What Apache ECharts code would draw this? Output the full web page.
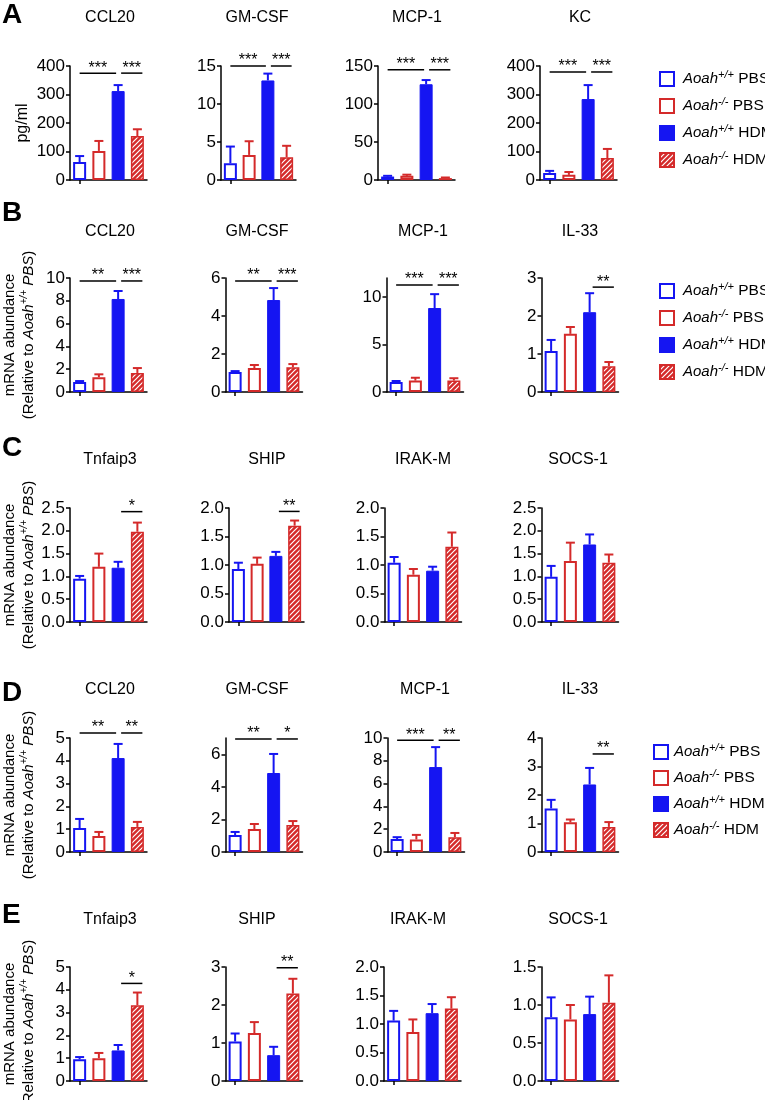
<!DOCTYPE html>
<html><head><meta charset="utf-8">
<script src="https://cdn.jsdelivr.net/npm/echarts@6/dist/echarts.min.js"></script>
<style>html,body{margin:0;padding:0;background:#fff}#c{width:765px;height:1100px}</style>
</head><body><div id="c"></div>
<script>
// ---------------- DATA ----------------
const categories = ['Aoah+/+ PBS', 'Aoah-/- PBS', 'Aoah+/+ HDM', 'Aoah-/- HDM'];

// Row A (pg/ml)
const titlesA = ['CCL20', 'GM-CSF', 'MCP-1', 'KC'];
const meanA1 = [63, 102, 312, 154],   semA1 = [21, 35, 21, 24],      ticksA1 = [0, 100, 200, 300, 400];
const meanA2 = [2.2, 3.3, 13.1, 3.0], semA2 = [2.2, 1.8, 0.9, 1.5],  ticksA2 = [0, 5, 10, 15];
const meanA3 = [4.5, 5.5, 126, 2.5],  semA3 = [1, 1.5, 5.5, 0.8],    ticksA3 = [0, 50, 100, 150];
const meanA4 = [25, 18, 284, 77],     semA4 = [7, 10, 49, 32],       ticksA4 = [0, 100, 200, 300, 400];
const sigA1 = [[0, 2, 375, '***'], [2, 3, 375, '***']];
const sigA2 = [[0, 2, 15, '***'], [2, 3, 15, '***']];
const sigA3 = [[0, 2, 145, '***'], [2, 3, 145, '***']];
const sigA4 = [[0, 2, 379, '***'], [2, 3, 379, '***']];

// Row B (mRNA)
const titlesB = ['CCL20', 'GM-CSF', 'MCP-1', 'IL-33'];
const meanB1 = [0.88, 1.3, 8.16, 1.67], semB1 = [0.08, 0.25, 0.7, 0.43],  ticksB1 = [0, 2, 4, 6, 8, 10];
const meanB2 = [1.05, 1.26, 4.84, 1.3], semB2 = [0.05, 0.16, 0.63, 0.17], ticksB2 = [0, 2, 4, 6];
const meanB3 = [1.05, 1.2, 8.84, 1.2],  semB3 = [0.11, 0.3, 1.46, 0.25],  ticksB3 = [0, 5, 10];
const meanB4 = [1.08, 1.53, 2.1, 0.68], semB4 = [0.29, 0.18, 0.5, 0.11],  ticksB4 = [0, 1, 2, 3];
const sigB1 = [[0, 2, 9.74, '**'], [2, 3, 9.74, '***']];
const sigB2 = [[0, 2, 5.84, '**'], [2, 3, 5.84, '***']];
const sigB3 = [[0, 2, 11.26, '***'], [2, 3, 11.26, '***']];
const sigB4 = [[2, 3, 2.76, '**']];

// Row C
const titlesC = ['Tnfaip3', 'SHIP', 'IRAK-M', 'SOCS-1'];
const meanC1 = [0.95, 1.21, 1.19, 1.98], semC1 = [0.06, 0.29, 0.13, 0.2],  ticksC1 = [0, 0.5, 1, 1.5, 2, 2.5];
const meanC2 = [0.93, 1.02, 1.16, 1.69], semC2 = [0.11, 0.11, 0.07, 0.09], ticksC2 = [0, 0.5, 1, 1.5, 2];
const meanC3 = [1.04, 0.83, 0.9, 1.32],  semC3 = [0.1, 0.1, 0.07, 0.25],   ticksC3 = [0, 0.5, 1, 1.5, 2];
const meanC4 = [0.99, 1.34, 1.7, 1.3],   semC4 = [0.24, 0.4, 0.22, 0.18],  ticksC4 = [0, 0.5, 1, 1.5, 2, 2.5];
const sigC1 = [[2, 3, 2.42, '*']];
const sigC2 = [[2, 3, 1.94, '**']];
const sigC3 = [];
const sigC4 = [];

// Row D
const titlesD = ['CCL20', 'GM-CSF', 'MCP-1', 'IL-33'];
const meanD1 = [1.05, 0.7, 4.12, 1.1],   semD1 = [0.4, 0.18, 0.62, 0.22],  ticksD1 = [0, 1, 2, 3, 4, 5];
const meanD2 = [1.04, 1.41, 4.85, 1.66], semD2 = [0.19, 0.31, 1.17, 0.24], ticksD2 = [0, 2, 4, 6];
const meanD3 = [1.14, 1.1, 7.45, 1.3],   semD3 = [0.16, 0.4, 1.75, 0.37],  ticksD3 = [0, 2, 4, 6, 8, 10];
const meanD4 = [1.53, 1.04, 2.37, 0.88], semD4 = [0.3, 0.1, 0.58, 0.17],   ticksD4 = [0, 1, 2, 3, 4];
const sigD1 = [[0, 2, 5.22, '**'], [2, 3, 5.22, '**']];
const sigD2 = [[0, 2, 6.94, '**'], [2, 3, 6.94, '*']];
const sigD3 = [[0, 2, 9.8, '***'], [2, 3, 9.8, '**']];
const sigD4 = [[2, 3, 3.44, '**']];

// Row E
const titlesE = ['Tnfaip3', 'SHIP', 'IRAK-M', 'SOCS-1'];
const meanE1 = [0.95, 1.0, 1.34, 3.32],  semE1 = [0.1, 0.23, 0.24, 0.56],  ticksE1 = [0, 1, 2, 3, 4, 5];
const meanE2 = [1.04, 1.26, 0.68, 2.3],  semE2 = [0.21, 0.29, 0.22, 0.39], ticksE2 = [0, 1, 2, 3];
const meanE3 = [1.06, 0.86, 1.19, 1.27], semE3 = [0.17, 0.22, 0.16, 0.2],  ticksE3 = [0, 0.5, 1, 1.5, 2];
const meanE4 = [0.84, 0.81, 0.88, 1.03], semE4 = [0.26, 0.19, 0.23, 0.36], ticksE4 = [0, 0.5, 1, 1.5];
const sigE1 = [[2, 3, 4.28, '*']];
const sigE2 = [[2, 3, 2.98, '**']];
const sigE3 = [];
const sigE4 = [];

// axis maxima (only differ from last tick in two panels)
const axisMaxB3 = 12, axisMaxD2 = 7;

// ---------------- LAYOUT / STYLE ----------------
const BLUE = '#1515f2', RED = '#d42a2a';
const FONT = '"Liberation Sans", Arial, Helvetica, sans-serif';
const PLOT_H = 114;

const rows = [
  { letter: 'A', top: 66,  letterY: 15,  titleY: 18,  lefts: [70, 221, 378, 540], widths: [77, 75, 77, 77], titleX: [110, 257, 417, 580], titles: titlesA,
    panels: [[meanA1, semA1, ticksA1, null, 0, sigA1], [meanA2, semA2, ticksA2, null, 0, sigA2], [meanA3, semA3, ticksA3, null, 0, sigA3], [meanA4, semA4, ticksA4, null, 0, sigA4]] },
  { letter: 'B', top: 278, letterY: 213, titleY: 232, lefts: [70, 225.5, 386.5, 541.5], widths: [77, 77, 77, 77], titleX: [110, 257, 423, 580], titles: titlesB,
    panels: [[meanB1, semB1, ticksB1, null, 0, sigB1], [meanB2, semB2, ticksB2, null, 0, sigB2], [meanB3, semB3, ticksB3, axisMaxB3, 0, sigB3], [meanB4, semB4, ticksB4, null, 0, sigB4]] },
  { letter: 'C', top: 508, letterY: 448, titleY: 460, lefts: [70, 229, 384.5, 541.5], widths: [77, 75, 77, 77], titleX: [110, 267, 423, 578], titles: titlesC,
    panels: [[meanC1, semC1, ticksC1, null, 1, sigC1], [meanC2, semC2, ticksC2, null, 1, sigC2], [meanC3, semC3, ticksC3, null, 1, sigC3], [meanC4, semC4, ticksC4, null, 1, sigC4]] },
  { letter: 'D', top: 738, letterY: 693, titleY: 690, lefts: [70, 225.5, 387.5, 541.5], widths: [77, 77, 77, 77], titleX: [110, 257, 425, 580], titles: titlesD,
    panels: [[meanD1, semD1, ticksD1, null, 0, sigD1], [meanD2, semD2, ticksD2, axisMaxD2, 0, sigD2], [meanD3, semD3, ticksD3, null, 0, sigD3], [meanD4, semD4, ticksD4, null, 0, sigD4]] },
  { letter: 'E', top: 967, letterY: 915, titleY: 920, lefts: [70, 225.5, 384, 541.5], widths: [77, 77, 77, 77], titleX: [110, 257, 418, 578], titles: titlesE,
    panels: [[meanE1, semE1, ticksE1, null, 0, sigE1], [meanE2, semE2, ticksE2, null, 0, sigE2], [meanE3, semE3, ticksE3, null, 1, sigE3], [meanE4, semE4, ticksE4, null, 1, sigE4]] }
];

function hatchCanvas() {
  const s = 5, c = document.createElement('canvas');
  c.width = s; c.height = s;
  const x = c.getContext('2d');
  x.fillStyle = RED; x.fillRect(0, 0, s, s);
  x.strokeStyle = '#ffffff'; x.lineWidth = 1.2;
  x.beginPath();
  x.moveTo(-1, s + 1); x.lineTo(s + 1, -1);
  x.moveTo(-1, 1); x.lineTo(1, -1);
  x.moveTo(s - 1, s + 1); x.lineTo(s + 1, s - 1);
  x.stroke();
  return c;
}
const hatch = { image: hatchCanvas(), repeat: 'repeat' };

const barStyles = [
  { color: '#ffffff', borderColor: BLUE, borderWidth: 2 },
  { color: '#ffffff', borderColor: RED, borderWidth: 2 },
  { color: BLUE, borderColor: BLUE, borderWidth: 1 },
  { color: hatch, borderColor: RED, borderWidth: 1.5 }
];
const errColors = [BLUE, RED, BLUE, RED];

const grids = [], xAxes = [], yAxes = [], series = [], graphics = [];

rows.forEach((row, r) => {
  graphics.push({ type: 'text', left: 2, top: row.letterY - 14,
    style: { text: row.letter, font: 'bold 28px ' + FONT, fill: '#000' } });
  row.panels.forEach((p, c) => {
    const [mean, sem, ticks, amax, dec, sig] = p;
    const g = grids.length;
    grids.push({ left: row.lefts[c], top: row.top, width: row.widths[c], height: PLOT_H, containLabel: false });
    xAxes.push({
      type: 'category', gridIndex: g, data: categories, boundaryGap: true,
      axisLabel: { show: false },
      axisTick: { show: true, alignWithLabel: true, length: 4, lineStyle: { color: '#000', width: 1.5 } },
      axisLine: { lineStyle: { color: '#000', width: 1.5 } }
    });
    const step = ticks[1] - ticks[0];
    yAxes.push({
      type: 'value', gridIndex: g, min: 0, max: amax != null ? amax : ticks[ticks.length - 1], interval: step,
      splitLine: { show: false },
      axisLine: { show: true, lineStyle: { color: '#000', width: 1.5 } },
      axisTick: { show: true, length: 4, customValues: ticks, lineStyle: { color: '#000', width: 1.5 } },
      axisLabel: { customValues: ticks, margin: 5, color: '#000', fontSize: 17, fontFamily: FONT,
        formatter: v => Number(v).toFixed(dec) }
    });
    categories.forEach((name, k) => {
      series.push({
        type: 'bar', name: name, xAxisIndex: g, yAxisIndex: g, barWidth: 13, barGap: '-100%',
        data: mean.map((v, i) => (i === k ? v : '-')),
        itemStyle: barStyles[k], emphasis: { disabled: true }, z: 2, silent: true
      });
    });
    series.push({
      type: 'custom', xAxisIndex: g, yAxisIndex: g, z: 3, silent: true,
      data: mean.map((v, i) => [i, v, v + sem[i]]),
      encode: { x: 0, y: [1, 2] },
      renderItem: (params, api) => {
        const i = api.value(0);
        const b = api.coord([i, api.value(1)]);
        const t = api.coord([i, api.value(2)]);
        const col = errColors[i];
        return { type: 'group', children: [
          { type: 'line', shape: { x1: b[0], y1: b[1], x2: b[0], y2: t[1] }, style: { stroke: col, lineWidth: 2 } },
          { type: 'line', shape: { x1: b[0] - 4.5, y1: t[1], x2: b[0] + 4.5, y2: t[1] }, style: { stroke: col, lineWidth: 2 } }
        ] };
      }
    });
    if (sig.length) {
      series.push({
        type: 'custom', xAxisIndex: g, yAxisIndex: g, z: 3, silent: true,
        data: sig.map(s => [s[0], s[2], s[1]]),
        encode: { x: 0, y: 1 },
        renderItem: (params, api) => {
          const s = sig[params.dataIndex];
          const p1 = api.coord([s[0], s[2]]), p2 = api.coord([s[1], s[2]]);
          const x1 = p1[0] + (s[0] === 0 ? 0 : 3);
          const x2 = p2[0] + (s[1] === 2 ? -2 : 5);
          return { type: 'group', children: [
            { type: 'line', shape: { x1: x1, y1: p1[1], x2: x2, y2: p1[1] }, style: { stroke: '#000', lineWidth: 1.5 } },
            { type: 'text', x: (x1 + x2) / 2, y: p1[1] - 5,
              style: { text: s[3], align: 'center', verticalAlign: 'middle', fontSize: 16, fontFamily: FONT, fill: '#000' } }
          ] };
        }
      });
    }
    graphics.push({ type: 'text', x: row.titleX[c], y: row.titleY,
      style: { text: row.titles[c], align: 'center', verticalAlign: 'middle', font: '16px ' + FONT, fill: '#000' } });
  });
});

// y-axis titles
graphics.push({ type: 'text', x: 23, y: 123, rotation: Math.PI / 2,
  style: { text: 'pg/ml', align: 'center', verticalAlign: 'middle', font: '16px ' + FONT, fill: '#000' } });
const relRich = {
  n: { fontSize: 15, fontFamily: FONT, lineHeight: 20, fill: '#000' },
  i: { fontSize: 15, fontFamily: FONT, fontStyle: 'italic', lineHeight: 20, fill: '#000' },
  s: { fontSize: 10, fontFamily: FONT, fontStyle: 'italic', lineHeight: 10, verticalAlign: 'top', fill: '#000' }
};
[335, 565, 795, 1024].forEach(cy => {
  graphics.push({ type: 'text', x: 10, y: cy, rotation: Math.PI / 2,
    style: { text: 'mRNA abundance', align: 'center', verticalAlign: 'middle', font: '15px ' + FONT, fill: '#000' } });
  graphics.push({ type: 'text', x: 29, y: cy, rotation: Math.PI / 2,
    style: { text: '{n|(Relative to }{i|Aoah}{s|+/+}{i| PBS}{n|)}', align: 'center', verticalAlign: 'middle', rich: relRich } });
});

const legendRich = {
  n: { fontSize: 15.5, fontFamily: FONT, lineHeight: 20, color: '#000' },
  i: { fontSize: 15, fontFamily: FONT, fontStyle: 'italic', lineHeight: 20, color: '#000' },
  s: { fontSize: 11, fontFamily: FONT, fontStyle: 'italic', lineHeight: 10, verticalAlign: 'top', color: '#000' }
};
function legendFmt(name) {
  const sup = name.indexOf('+/+') >= 0 ? '+/+' : '-/-';
  const grp = name.slice(name.lastIndexOf(' ') + 1);
  return '{i|Aoah}{s|' + sup + '}{n| ' + grp + '}';
}
function mkLegend(left, top, gap, textPad) {
  return { data: categories, orient: 'vertical', left: left, top: top, padding: 0, itemWidth: 14, itemHeight: 14, itemGap: gap,
    icon: 'rect', selectedMode: false, formatter: legendFmt,
    textStyle: { rich: legendRich, padding: [0, 0, 0, textPad] } };
}

const chart = echarts.init(document.getElementById('c'), null, { renderer: 'canvas', width: 765, height: 1100 });
chart.setOption({
  backgroundColor: '#ffffff',
  animation: false,
  grid: grids, xAxis: xAxes, yAxis: yAxes, series: series,
  legend: [mkLegend(659, 69, 9, 4), mkLegend(659, 281, 9, 4), mkLegend(653, 742, 8, 1)],
  graphic: graphics
});
</script></body></html>
